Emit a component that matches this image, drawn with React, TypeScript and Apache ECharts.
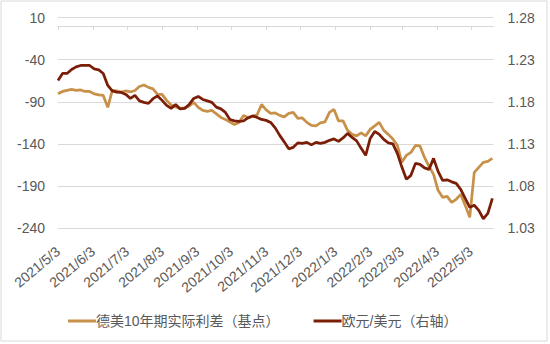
import React, { useEffect, useRef } from 'react';
import * as echarts from 'echarts';

// Axis: one category per calendar day, 2021/5/3 .. 2022/5/23
const START_UTC = Date.UTC(2021, 4, 3);
const AXIS_DAYS = 386;
const SAMPLE_STEP_DAYS = 4; // series sampled every 4 calendar days, starting 2021/5/3

const monthLabels = [
  '2021/5/3', '2021/6/3', '2021/7/3', '2021/8/3', '2021/9/3', '2021/10/3', '2021/11/3',
  '2021/12/3', '2022/1/3', '2022/2/3', '2022/3/3', '2022/4/3', '2022/5/3',
];

const seriesNames = ['德美10年期实际利差（基点）', '欧元/美元（右轴）'];

// 德美10年期实际利差（基点）
const spread = [
  -80.4, -77.7, -76.5, -75.3, -76.5, -75.9, -77.7, -77.7, -80.6, -81.8,
  -82.4, -96.6, -76.5, -77.1, -78.5, -77.1, -78.3, -76.5, -71.8, -70.0,
  -72.9, -74.7, -81.2, -81.2, -88.3, -93.7, -96.0, -97.8, -97.2, -94.9,
  -90.7, -96.6, -100.2, -101.4, -100.2, -104.3, -108.5, -110.9, -114.1, -116.8,
  -114.4, -106.1, -108.5, -107.3, -105.5, -93.1, -99.6, -103.7, -103.2, -106.1,
  -107.9, -103.7, -102.6, -109.7, -109.1, -114.4, -118.0, -118.6, -115.0, -113.8,
  -102.6, -99.0, -112.6, -112.6, -123.9, -128.6, -130.4, -126.8, -130.4, -122.7,
  -118.6, -114.4, -123.9, -128.6, -134.0, -141.7, -161.8, -153.5, -150.0, -141.7,
  -142.3, -155.9, -166.5, -176.0, -195.0, -203.3, -202.1, -209.2, -205.6, -199.7,
  -212.8, -227.0, -173.6, -167.7, -161.8, -160.6, -157.1,
];

// 欧元/美元（右轴）
const eurusd = [
  1.2054, 1.2136, 1.2136, 1.2184, 1.2214, 1.2231, 1.2231, 1.2231, 1.2190, 1.2178,
  1.2136, 1.1994, 1.1929, 1.1915, 1.1911, 1.1888, 1.1840, 1.1876, 1.1811, 1.1793,
  1.1781, 1.1837, 1.1870, 1.1817, 1.1757, 1.1722, 1.1769, 1.1716, 1.1722, 1.1769,
  1.1840, 1.1864, 1.1828, 1.1811, 1.1793, 1.1737, 1.1716, 1.1674, 1.1591, 1.1574,
  1.1568, 1.1574, 1.1609, 1.1633, 1.1615, 1.1591, 1.1580, 1.1556, 1.1491, 1.1402,
  1.1325, 1.1242, 1.1260, 1.1313, 1.1307, 1.1319, 1.1289, 1.1319, 1.1307, 1.1319,
  1.1343, 1.1360, 1.1331, 1.1372, 1.1426, 1.1378, 1.1337, 1.1248, 1.1165, 1.1366,
  1.1449, 1.1414, 1.1354, 1.1313, 1.1301, 1.1189, 1.1026, 1.0881, 1.0928, 1.1070,
  1.1058, 1.1017, 1.0999, 1.1129, 1.0975, 1.0869, 1.0875, 1.0851, 1.0833, 1.0762,
  1.0655, 1.0549, 1.0573, 1.0513, 1.0413, 1.0478, 1.0655,
];

const leftAxisRange = { min: -240, max: 10, interval: 50 };
const rightAxisRange = { min: 1.03, max: 1.28, interval: 0.05 };

function buildDays(): string[] {
  const out: string[] = [];
  for (let i = 0; i < AXIS_DAYS; i++) {
    const d = new Date(START_UTC + i * 86400000);
    out.push(`${d.getUTCFullYear()}/${d.getUTCMonth() + 1}/${d.getUTCDate()}`);
  }
  return out;
}

const FONT = '"Liberation Sans", Arial, "Noto Sans CJK SC", sans-serif';
const GOLD = '#C8914A';
const BROWN = '#7A1E07';
const GRID_GREY = '#D9D9D9';
const TEXT_GREY = '#595959';

export default function App() {
  const ref = useRef<HTMLDivElement>(null);

  useEffect(() => {
    if (!ref.current) return;
    const chart = echarts.init(ref.current, undefined, { renderer: 'svg' });
    const days = buildDays();
    const isMonthTick = (_idx: number, val: string) => monthLabels.includes(val);

    const option: any = {
      animation: false,
      backgroundColor: '#ffffff',
      textStyle: { fontFamily: FONT },
      graphic: [
        {
          type: 'rect',
          shape: { x: 1, y: 1, width: 546, height: 340 },
          style: { fill: 'none', stroke: GRID_GREY, lineWidth: 1 },
          silent: true,
        },
      ],
      grid: { left: 58, right: 56.5, top: 17.5, bottom: 115.7, containLabel: false },
      legend: {
        left: 63,
        top: 309,
        icon: 'rect',
        itemWidth: 28,
        itemHeight: 3,
        itemGap: 34,
        textStyle: { fontSize: 14, color: TEXT_GREY, fontFamily: FONT, padding: [0, 0, 0, -5] },
        data: seriesNames,
      },
      xAxis: [
        {
          type: 'category',
          data: days,
          boundaryGap: false,
          position: 'bottom',
          axisLine: { show: true, onZero: true, onZeroAxisIndex: 0, lineStyle: { color: GRID_GREY, width: 1 } },
          axisTick: { show: true, interval: isMonthTick, length: 4, lineStyle: { color: GRID_GREY } },
          axisLabel: { show: false },
          splitLine: { show: false },
        },
        {
          type: 'category',
          data: days,
          boundaryGap: false,
          position: 'bottom',
          axisLine: { show: false, onZero: false },
          axisTick: { show: false },
          axisLabel: {
            show: true,
            interval: isMonthTick,
            rotate: 40,
            margin: 21,
            fontSize: 14,
            color: TEXT_GREY,
            fontFamily: FONT,
          },
          splitLine: { show: false },
        },
      ],
      yAxis: [
        {
          type: 'value',
          position: 'left',
          ...leftAxisRange,
          axisLine: { show: false },
          axisTick: { show: false },
          axisLabel: { fontSize: 14, color: TEXT_GREY, margin: 13, fontFamily: FONT },
          splitLine: { show: true, lineStyle: { color: GRID_GREY, width: 1 } },
        },
        {
          type: 'value',
          position: 'right',
          ...rightAxisRange,
          axisLine: { show: false },
          axisTick: { show: false },
          axisLabel: {
            fontSize: 14,
            color: TEXT_GREY,
            margin: 14,
            fontFamily: FONT,
            formatter: (v: number) => v.toFixed(2),
          },
          splitLine: { show: false },
        },
      ],
      series: [
        {
          name: seriesNames[0],
          type: 'line',
          xAxisIndex: 0,
          yAxisIndex: 0,
          data: spread.map((v, i) => [i * SAMPLE_STEP_DAYS, v]),
          symbol: 'none',
          lineStyle: { color: GOLD, width: 2.75 },
          itemStyle: { color: GOLD },
        },
        {
          name: seriesNames[1],
          type: 'line',
          xAxisIndex: 0,
          yAxisIndex: 1,
          data: eurusd.map((v, i) => [i * SAMPLE_STEP_DAYS, v]),
          symbol: 'none',
          lineStyle: { color: BROWN, width: 2.75 },
          itemStyle: { color: BROWN },
        },
      ],
    };

    chart.setOption(option);
    return () => chart.dispose();
  }, []);

  return (
    <div
      ref={ref}
      style={{ position: 'absolute', left: 0, top: 0, width: 550, height: 344, background: '#fff' }}
    />
  );
}
